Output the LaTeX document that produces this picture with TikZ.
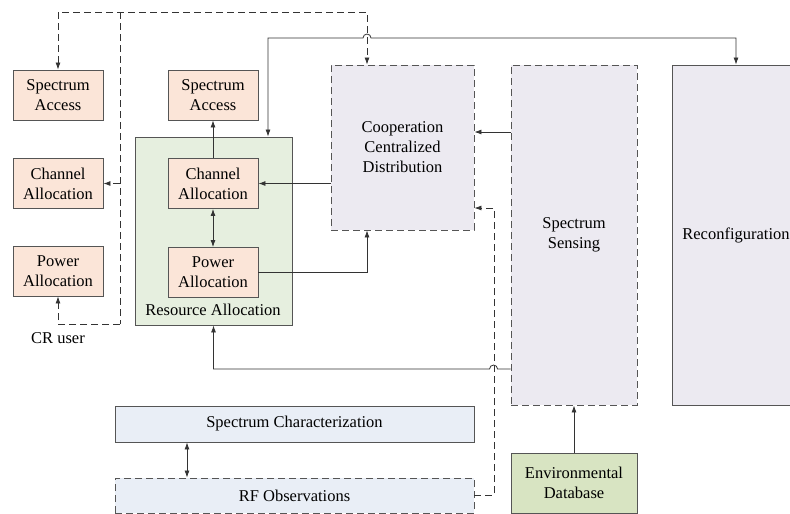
\documentclass[tikz,border=0pt]{standalone}
\usepackage{fontspec}
\setmainfont{Liberation Serif}
\usetikzlibrary{arrows.meta}
\definecolor{peach}{HTML}{FBE5D8}
\definecolor{rgreen}{HTML}{E6EFDF}
\definecolor{lav}{HTML}{ECEAF1}
\definecolor{envg}{HTML}{D8E4C2}
\definecolor{lblue}{HTML}{E9EEF6}
\definecolor{bord}{HTML}{555555}
\definecolor{conn}{HTML}{333333}
\tikzset{
  box/.style={draw=bord, line width=0.9pt, align=center, inner sep=0pt,
    font=\rmfamily\fontsize{16.5}{20}\selectfont, text=black},
  pbox/.style={box, fill=peach, minimum width=90pt, minimum height=50pt},
  dbox/.style={dash pattern=on 7pt off 4pt},
  cl/.style={draw=conn, line width=0.8pt, -{Latex[length=7pt,width=5pt]}},
  bl/.style={cl, {Latex[length=7pt,width=5pt]}-{Latex[length=7pt,width=5pt]}},
  dl/.style={cl, dash pattern=on 7pt off 4pt},
  lbl/.style={font=\rmfamily\fontsize{16.5}{20}\selectfont, text=black, inner sep=0pt}
}
\begin{document}
\begin{tikzpicture}[x=1pt,y=-1pt]
\clip (0,0) rectangle (790,514);
\fill[white] (0,0) rectangle (790,514);
% large boxes
\node[box, fill=rgreen, minimum width=157pt, minimum height=188pt] (ra) at (213.5,231) {};
\node[lbl] (ratext) at (213,310) {Resource Allocation};
\node[box, dbox, fill=lav, minimum width=143pt, minimum height=165pt] (coop) at (402.5,147.5) {Cooperation\\Centralized\\Distribution};
\node[box, dbox, fill=lav, minimum width=126pt, minimum height=340pt] (sens) at (574,235) {Spectrum\\Sensing};
\node[box, fill=lav, minimum width=128pt, minimum height=340pt] (reconf) at (736,235) {Reconfiguration};
\node[box, fill=lblue, minimum width=359pt, minimum height=36pt] (sc) at (294.5,424) {Spectrum Characterization};
\node[box, dbox, fill=lblue, minimum width=359pt, minimum height=35pt] (rf) at (294.5,495.5) {RF Observations};
\node[box, fill=envg, minimum width=126pt, minimum height=60pt] (env) at (574,483) {Environmental\\Database};
% left CR user boxes
\node[pbox] (saL) at (58,95) {Spectrum\\Access};
\node[pbox] (caL) at (58,183.5) {Channel\\Allocation};
\node[pbox] (paL) at (58,271) {Power\\Allocation};
\node[lbl] (cru) at (58,338) {CR user};
% middle boxes
\node[pbox] (saM) at (213,95) {Spectrum\\Access};
\node[pbox] (caM) at (213,183.5) {Channel\\Allocation};
\node[pbox] (paM) at (213,272.5) {Power\\Allocation};
% coordinates
\coordinate (topL) at (58,12);
\coordinate (topR) at (367,12);
\coordinate (vx) at (120,12);
\coordinate (vb) at (120,324);
\coordinate (lb) at (58,324);
\coordinate (t1) at (268,38);
\coordinate (t2) at (736,38);
\coordinate (s1) at ([yshift=103pt]sens.west);
\coordinate (s2) at ([yshift=-134pt]sens.west);
\coordinate (d1) at (494,208);
\coordinate (ax) at (187,0);
% dashed CR user connectors
\draw[dl, bl, dash pattern=on 7pt off 4pt] (saL.north) -- (topL) -- (topR) -- (topR |- coop.north);
\draw[draw=conn, line width=0.8pt, dash pattern=on 7pt off 4pt] (vx) -- (vb);
\draw[dl] (vb) -- (lb) -- (paL.south);
\draw[dl] (vx |- caL.east) -- (caL.east);
% solid top line with jump
\draw[bl] (t1 |- ra.north) -- (t1) -- (363,38) arc (180:360:4) -- (t2) -- (reconf.north);
% internal connectors
\draw[cl] (coop.west |- caM.east) -- (caM.east);
\draw[cl] (caM.north) -- (saM.south);
\draw[bl] (caM.south) -- (paM.north);
\draw[cl] (paM.east) -| (topR |- coop.south);
\draw[cl] (s1) -- (s1 -| coop.east);
\draw[cl] (s2) -- ++(-13,0) arc (0:-180:4) -- (ra.south |- s2) -- (ra.south);
\draw[dl] (rf.east) -| (d1) -- (d1 -| coop.east);
\draw[bl] (ax |- sc.south) -- (ax |- rf.north);
\draw[cl] (env.north) -- (sens.south);
\end{tikzpicture}
\end{document}
